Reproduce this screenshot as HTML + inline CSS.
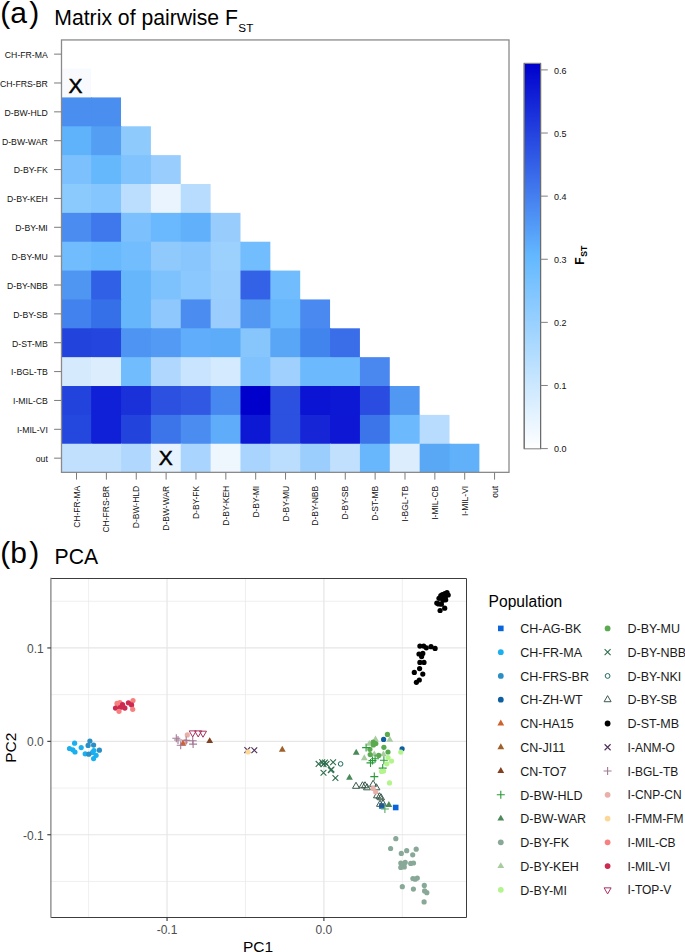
<!DOCTYPE html><html><head><meta charset="utf-8"><style>html,body{margin:0;padding:0;background:#fff;}body{width:685px;height:952px;overflow:hidden;}svg{display:block;}text{font-family:"Liberation Sans", sans-serif;}</style></head><body>
<svg width="685" height="952" viewBox="0 0 685 952">
<rect x="0" y="0" width="685" height="952" fill="#fff"/>
<text x="0.3" y="22.6" font-size="30" fill="#000">(a<tspan dx="2.2">)</tspan></text>
<text x="54.3" y="24.9" font-size="21.2" fill="#000">Matrix of pairwise F<tspan font-size="11.7" dx="0.4" dy="7.0">ST</tspan></text>
<rect x="61.30" y="68.56" width="29.86" height="29.86" fill="#f8fafe"/>
<rect x="61.30" y="97.42" width="30.86" height="29.86" fill="#4a8ef0"/>
<rect x="91.16" y="97.42" width="29.86" height="29.86" fill="#4a8ef0"/>
<rect x="61.30" y="126.28" width="30.86" height="29.86" fill="#5eb3fb"/>
<rect x="91.16" y="126.28" width="30.86" height="29.86" fill="#549ff4"/>
<rect x="121.03" y="126.28" width="29.86" height="29.86" fill="#8fcafd"/>
<rect x="61.30" y="155.14" width="30.86" height="29.86" fill="#7cc1fd"/>
<rect x="91.16" y="155.14" width="30.86" height="29.86" fill="#66b8fd"/>
<rect x="121.03" y="155.14" width="30.86" height="29.86" fill="#80c3fd"/>
<rect x="150.89" y="155.14" width="29.86" height="29.86" fill="#98cdfd"/>
<rect x="61.30" y="184.00" width="30.86" height="29.86" fill="#8acafd"/>
<rect x="91.16" y="184.00" width="30.86" height="29.86" fill="#84c6fd"/>
<rect x="121.03" y="184.00" width="30.86" height="29.86" fill="#bcdefe"/>
<rect x="150.89" y="184.00" width="30.86" height="29.86" fill="#eaf4fe"/>
<rect x="180.75" y="184.00" width="29.86" height="29.86" fill="#b8dcfe"/>
<rect x="61.30" y="212.86" width="30.86" height="29.86" fill="#4a8cf0"/>
<rect x="91.16" y="212.86" width="30.86" height="29.86" fill="#3e78ec"/>
<rect x="121.03" y="212.86" width="30.86" height="29.86" fill="#7cc0fd"/>
<rect x="150.89" y="212.86" width="30.86" height="29.86" fill="#6ab8fd"/>
<rect x="180.75" y="212.86" width="30.86" height="29.86" fill="#60b0fc"/>
<rect x="210.62" y="212.86" width="29.86" height="29.86" fill="#98ccfd"/>
<rect x="61.30" y="241.72" width="30.86" height="29.86" fill="#70bcfd"/>
<rect x="91.16" y="241.72" width="30.86" height="29.86" fill="#68b8fd"/>
<rect x="121.03" y="241.72" width="30.86" height="29.86" fill="#72bdfd"/>
<rect x="150.89" y="241.72" width="30.86" height="29.86" fill="#90cafd"/>
<rect x="180.75" y="241.72" width="30.86" height="29.86" fill="#88c6fd"/>
<rect x="210.62" y="241.72" width="30.86" height="29.86" fill="#9cd0fd"/>
<rect x="240.48" y="241.72" width="29.86" height="29.86" fill="#72bdfd"/>
<rect x="61.30" y="270.58" width="30.86" height="29.86" fill="#4e96f2"/>
<rect x="91.16" y="270.58" width="30.86" height="29.86" fill="#3060e6"/>
<rect x="121.03" y="270.58" width="30.86" height="29.86" fill="#66b6fc"/>
<rect x="150.89" y="270.58" width="30.86" height="29.86" fill="#7ec2fd"/>
<rect x="180.75" y="270.58" width="30.86" height="29.86" fill="#8ac8fd"/>
<rect x="210.62" y="270.58" width="30.86" height="29.86" fill="#9acefd"/>
<rect x="240.48" y="270.58" width="30.86" height="29.86" fill="#3462e6"/>
<rect x="270.34" y="270.58" width="29.86" height="29.86" fill="#70bcfd"/>
<rect x="61.30" y="299.44" width="30.86" height="29.86" fill="#4282ee"/>
<rect x="91.16" y="299.44" width="30.86" height="29.86" fill="#3670e9"/>
<rect x="121.03" y="299.44" width="30.86" height="29.86" fill="#66b6fc"/>
<rect x="150.89" y="299.44" width="30.86" height="29.86" fill="#8ec8fd"/>
<rect x="180.75" y="299.44" width="30.86" height="29.86" fill="#4a8cf0"/>
<rect x="210.62" y="299.44" width="30.86" height="29.86" fill="#9acdfd"/>
<rect x="240.48" y="299.44" width="30.86" height="29.86" fill="#5298f2"/>
<rect x="270.34" y="299.44" width="30.86" height="29.86" fill="#68b6fc"/>
<rect x="300.20" y="299.44" width="29.86" height="29.86" fill="#4a8af0"/>
<rect x="61.30" y="328.30" width="30.86" height="29.86" fill="#2244dd"/>
<rect x="91.16" y="328.30" width="30.86" height="29.86" fill="#2446de"/>
<rect x="121.03" y="328.30" width="30.86" height="29.86" fill="#4e94f2"/>
<rect x="150.89" y="328.30" width="30.86" height="29.86" fill="#529af3"/>
<rect x="180.75" y="328.30" width="30.86" height="29.86" fill="#60aefb"/>
<rect x="210.62" y="328.30" width="30.86" height="29.86" fill="#5cacfa"/>
<rect x="240.48" y="328.30" width="30.86" height="29.86" fill="#86c6fd"/>
<rect x="270.34" y="328.30" width="30.86" height="29.86" fill="#5aa6f6"/>
<rect x="300.20" y="328.30" width="30.86" height="29.86" fill="#4284ee"/>
<rect x="330.07" y="328.30" width="29.86" height="29.86" fill="#3a6ee9"/>
<rect x="61.30" y="357.16" width="30.86" height="29.86" fill="#d6eafe"/>
<rect x="91.16" y="357.16" width="30.86" height="29.86" fill="#dceefe"/>
<rect x="121.03" y="357.16" width="30.86" height="29.86" fill="#70bcfd"/>
<rect x="150.89" y="357.16" width="30.86" height="29.86" fill="#b0d8fe"/>
<rect x="180.75" y="357.16" width="30.86" height="29.86" fill="#c8e4fe"/>
<rect x="210.62" y="357.16" width="30.86" height="29.86" fill="#d4eafe"/>
<rect x="240.48" y="357.16" width="30.86" height="29.86" fill="#80c2fd"/>
<rect x="270.34" y="357.16" width="30.86" height="29.86" fill="#a0d0fd"/>
<rect x="300.20" y="357.16" width="30.86" height="29.86" fill="#6cbafd"/>
<rect x="330.07" y="357.16" width="30.86" height="29.86" fill="#6cbafd"/>
<rect x="359.93" y="357.16" width="29.86" height="29.86" fill="#4a88f0"/>
<rect x="61.30" y="386.02" width="30.86" height="29.86" fill="#2244dc"/>
<rect x="91.16" y="386.02" width="30.86" height="29.86" fill="#1020d6"/>
<rect x="121.03" y="386.02" width="30.86" height="29.86" fill="#1a30d8"/>
<rect x="150.89" y="386.02" width="30.86" height="29.86" fill="#2c50e0"/>
<rect x="180.75" y="386.02" width="30.86" height="29.86" fill="#3058e2"/>
<rect x="210.62" y="386.02" width="30.86" height="29.86" fill="#4688ef"/>
<rect x="240.48" y="386.02" width="30.86" height="29.86" fill="#0000cc"/>
<rect x="270.34" y="386.02" width="30.86" height="29.86" fill="#2c50e0"/>
<rect x="300.20" y="386.02" width="30.86" height="29.86" fill="#0a14d2"/>
<rect x="330.07" y="386.02" width="30.86" height="29.86" fill="#0c18d4"/>
<rect x="359.93" y="386.02" width="30.86" height="29.86" fill="#2a4ce0"/>
<rect x="389.79" y="386.02" width="29.86" height="29.86" fill="#5098f2"/>
<rect x="61.30" y="414.88" width="30.86" height="29.86" fill="#2448de"/>
<rect x="91.16" y="414.88" width="30.86" height="29.86" fill="#1020d6"/>
<rect x="121.03" y="414.88" width="30.86" height="29.86" fill="#2244dc"/>
<rect x="150.89" y="414.88" width="30.86" height="29.86" fill="#3c74ea"/>
<rect x="180.75" y="414.88" width="30.86" height="29.86" fill="#4a8cf0"/>
<rect x="210.62" y="414.88" width="30.86" height="29.86" fill="#5eacfa"/>
<rect x="240.48" y="414.88" width="30.86" height="29.86" fill="#0c18d4"/>
<rect x="270.34" y="414.88" width="30.86" height="29.86" fill="#2c50e0"/>
<rect x="300.20" y="414.88" width="30.86" height="29.86" fill="#1626d6"/>
<rect x="330.07" y="414.88" width="30.86" height="29.86" fill="#0e18d4"/>
<rect x="359.93" y="414.88" width="30.86" height="29.86" fill="#3c74ea"/>
<rect x="389.79" y="414.88" width="30.86" height="29.86" fill="#6cbafd"/>
<rect x="419.66" y="414.88" width="29.86" height="29.86" fill="#b8dcfe"/>
<rect x="61.30" y="443.74" width="30.86" height="28.86" fill="#c0e0fe"/>
<rect x="91.16" y="443.74" width="30.86" height="28.86" fill="#c0e0fe"/>
<rect x="121.03" y="443.74" width="30.86" height="28.86" fill="#b0d8fe"/>
<rect x="150.89" y="443.74" width="30.86" height="28.86" fill="#e6f2fe"/>
<rect x="180.75" y="443.74" width="30.86" height="28.86" fill="#a8d4fe"/>
<rect x="210.62" y="443.74" width="30.86" height="28.86" fill="#eef6fe"/>
<rect x="240.48" y="443.74" width="30.86" height="28.86" fill="#a8d4fe"/>
<rect x="270.34" y="443.74" width="30.86" height="28.86" fill="#bcdefe"/>
<rect x="300.20" y="443.74" width="30.86" height="28.86" fill="#9ccefd"/>
<rect x="330.07" y="443.74" width="30.86" height="28.86" fill="#c0e0fe"/>
<rect x="359.93" y="443.74" width="30.86" height="28.86" fill="#68b6fc"/>
<rect x="389.79" y="443.74" width="30.86" height="28.86" fill="#dceefe"/>
<rect x="419.66" y="443.74" width="30.86" height="28.86" fill="#58a8f6"/>
<rect x="449.52" y="443.74" width="29.86" height="28.86" fill="#60b0fa"/>
<text x="75.40" y="92.60" font-size="21" text-anchor="middle" fill="#000" stroke="#000" stroke-width="0.45">X</text>
<text x="165.70" y="465.40" font-size="21" text-anchor="middle" fill="#000" stroke="#000" stroke-width="0.45">X</text>
<rect x="61.5" y="39.95" width="447.5" height="432.4" fill="none" stroke="#8a8a8a" stroke-width="1.3"/>
<line x1="54.10" y1="54.13" x2="61.30" y2="54.13" stroke="#7a7a7a" stroke-width="1"/>
<text x="47.8" y="58.03" font-size="8.7" text-anchor="end" fill="#111">CH-FR-MA</text>
<line x1="54.10" y1="82.99" x2="61.30" y2="82.99" stroke="#7a7a7a" stroke-width="1"/>
<text x="47.8" y="86.89" font-size="8.7" text-anchor="end" fill="#111">CH-FRS-BR</text>
<line x1="54.10" y1="111.85" x2="61.30" y2="111.85" stroke="#7a7a7a" stroke-width="1"/>
<text x="47.8" y="115.75" font-size="8.7" text-anchor="end" fill="#111">D-BW-HLD</text>
<line x1="54.10" y1="140.71" x2="61.30" y2="140.71" stroke="#7a7a7a" stroke-width="1"/>
<text x="47.8" y="144.61" font-size="8.7" text-anchor="end" fill="#111">D-BW-WAR</text>
<line x1="54.10" y1="169.57" x2="61.30" y2="169.57" stroke="#7a7a7a" stroke-width="1"/>
<text x="47.8" y="173.47" font-size="8.7" text-anchor="end" fill="#111">D-BY-FK</text>
<line x1="54.10" y1="198.43" x2="61.30" y2="198.43" stroke="#7a7a7a" stroke-width="1"/>
<text x="47.8" y="202.33" font-size="8.7" text-anchor="end" fill="#111">D-BY-KEH</text>
<line x1="54.10" y1="227.29" x2="61.30" y2="227.29" stroke="#7a7a7a" stroke-width="1"/>
<text x="47.8" y="231.19" font-size="8.7" text-anchor="end" fill="#111">D-BY-MI</text>
<line x1="54.10" y1="256.15" x2="61.30" y2="256.15" stroke="#7a7a7a" stroke-width="1"/>
<text x="47.8" y="260.05" font-size="8.7" text-anchor="end" fill="#111">D-BY-MU</text>
<line x1="54.10" y1="285.01" x2="61.30" y2="285.01" stroke="#7a7a7a" stroke-width="1"/>
<text x="47.8" y="288.91" font-size="8.7" text-anchor="end" fill="#111">D-BY-NBB</text>
<line x1="54.10" y1="313.87" x2="61.30" y2="313.87" stroke="#7a7a7a" stroke-width="1"/>
<text x="47.8" y="317.77" font-size="8.7" text-anchor="end" fill="#111">D-BY-SB</text>
<line x1="54.10" y1="342.73" x2="61.30" y2="342.73" stroke="#7a7a7a" stroke-width="1"/>
<text x="47.8" y="346.63" font-size="8.7" text-anchor="end" fill="#111">D-ST-MB</text>
<line x1="54.10" y1="371.59" x2="61.30" y2="371.59" stroke="#7a7a7a" stroke-width="1"/>
<text x="47.8" y="375.49" font-size="8.7" text-anchor="end" fill="#111">I-BGL-TB</text>
<line x1="54.10" y1="400.45" x2="61.30" y2="400.45" stroke="#7a7a7a" stroke-width="1"/>
<text x="47.8" y="404.35" font-size="8.7" text-anchor="end" fill="#111">I-MIL-CB</text>
<line x1="54.10" y1="429.31" x2="61.30" y2="429.31" stroke="#7a7a7a" stroke-width="1"/>
<text x="47.8" y="433.21" font-size="8.7" text-anchor="end" fill="#111">I-MIL-VI</text>
<line x1="54.10" y1="458.17" x2="61.30" y2="458.17" stroke="#7a7a7a" stroke-width="1"/>
<text x="47.8" y="462.07" font-size="8.7" text-anchor="end" fill="#111">out</text>
<line x1="76.53" y1="472.60" x2="76.53" y2="479.60" stroke="#7a7a7a" stroke-width="1"/>
<text transform="translate(79.58,485.8) rotate(-90)" font-size="8.5" text-anchor="end" fill="#111">CH-FR-MA</text>
<line x1="106.39" y1="472.60" x2="106.39" y2="479.60" stroke="#7a7a7a" stroke-width="1"/>
<text transform="translate(109.44,485.8) rotate(-90)" font-size="8.5" text-anchor="end" fill="#111">CH-FRS-BR</text>
<line x1="136.25" y1="472.60" x2="136.25" y2="479.60" stroke="#7a7a7a" stroke-width="1"/>
<text transform="translate(139.30,485.8) rotate(-90)" font-size="8.5" text-anchor="end" fill="#111">D-BW-HLD</text>
<line x1="166.11" y1="472.60" x2="166.11" y2="479.60" stroke="#7a7a7a" stroke-width="1"/>
<text transform="translate(169.16,485.8) rotate(-90)" font-size="8.5" text-anchor="end" fill="#111">D-BW-WAR</text>
<line x1="195.97" y1="472.60" x2="195.97" y2="479.60" stroke="#7a7a7a" stroke-width="1"/>
<text transform="translate(199.02,485.8) rotate(-90)" font-size="8.5" text-anchor="end" fill="#111">D-BY-FK</text>
<line x1="225.83" y1="472.60" x2="225.83" y2="479.60" stroke="#7a7a7a" stroke-width="1"/>
<text transform="translate(228.88,485.8) rotate(-90)" font-size="8.5" text-anchor="end" fill="#111">D-BY-KEH</text>
<line x1="255.69" y1="472.60" x2="255.69" y2="479.60" stroke="#7a7a7a" stroke-width="1"/>
<text transform="translate(258.74,485.8) rotate(-90)" font-size="8.5" text-anchor="end" fill="#111">D-BY-MI</text>
<line x1="285.55" y1="472.60" x2="285.55" y2="479.60" stroke="#7a7a7a" stroke-width="1"/>
<text transform="translate(288.60,485.8) rotate(-90)" font-size="8.5" text-anchor="end" fill="#111">D-BY-MU</text>
<line x1="315.41" y1="472.60" x2="315.41" y2="479.60" stroke="#7a7a7a" stroke-width="1"/>
<text transform="translate(318.46,485.8) rotate(-90)" font-size="8.5" text-anchor="end" fill="#111">D-BY-NBB</text>
<line x1="345.27" y1="472.60" x2="345.27" y2="479.60" stroke="#7a7a7a" stroke-width="1"/>
<text transform="translate(348.32,485.8) rotate(-90)" font-size="8.5" text-anchor="end" fill="#111">D-BY-SB</text>
<line x1="375.13" y1="472.60" x2="375.13" y2="479.60" stroke="#7a7a7a" stroke-width="1"/>
<text transform="translate(378.18,485.8) rotate(-90)" font-size="8.5" text-anchor="end" fill="#111">D-ST-MB</text>
<line x1="404.99" y1="472.60" x2="404.99" y2="479.60" stroke="#7a7a7a" stroke-width="1"/>
<text transform="translate(408.04,485.8) rotate(-90)" font-size="8.5" text-anchor="end" fill="#111">I-BGL-TB</text>
<line x1="434.85" y1="472.60" x2="434.85" y2="479.60" stroke="#7a7a7a" stroke-width="1"/>
<text transform="translate(437.90,485.8) rotate(-90)" font-size="8.5" text-anchor="end" fill="#111">I-MIL-CB</text>
<line x1="464.71" y1="472.60" x2="464.71" y2="479.60" stroke="#7a7a7a" stroke-width="1"/>
<text transform="translate(467.76,485.8) rotate(-90)" font-size="8.5" text-anchor="end" fill="#111">I-MIL-VI</text>
<line x1="494.57" y1="472.60" x2="494.57" y2="479.60" stroke="#7a7a7a" stroke-width="1"/>
<text transform="translate(497.62,485.8) rotate(-90)" font-size="8.5" text-anchor="end" fill="#111">out</text>
<defs><linearGradient id="cb" x1="0" y1="1" x2="0" y2="0"><stop offset="0" stop-color="#ffffff"/><stop offset="0.4994" stop-color="#63b8ff"/><stop offset="1" stop-color="#0000cd"/></linearGradient></defs>
<rect x="524.20" y="63.30" width="16.40" height="385.50" fill="url(#cb)" stroke="#8a8a8a" stroke-width="1.1"/>
<path d="M524.20 63.30V448.80M540.60 63.30V448.80" stroke="#6a6a6a" stroke-width="1.1" fill="none"/>
<line x1="540.60" y1="448.60" x2="547.80" y2="448.60" stroke="#808080" stroke-width="1"/>
<text x="554" y="452.40" font-size="9" fill="#111">0.0</text>
<line x1="540.60" y1="385.48" x2="547.80" y2="385.48" stroke="#808080" stroke-width="1"/>
<text x="554" y="389.28" font-size="9" fill="#111">0.1</text>
<line x1="540.60" y1="322.37" x2="547.80" y2="322.37" stroke="#808080" stroke-width="1"/>
<text x="554" y="326.17" font-size="9" fill="#111">0.2</text>
<line x1="540.60" y1="259.25" x2="547.80" y2="259.25" stroke="#808080" stroke-width="1"/>
<text x="554" y="263.05" font-size="9" fill="#111">0.3</text>
<line x1="540.60" y1="196.13" x2="547.80" y2="196.13" stroke="#808080" stroke-width="1"/>
<text x="554" y="199.93" font-size="9" fill="#111">0.4</text>
<line x1="540.60" y1="133.02" x2="547.80" y2="133.02" stroke="#808080" stroke-width="1"/>
<text x="554" y="136.82" font-size="9" fill="#111">0.5</text>
<line x1="540.60" y1="69.90" x2="547.80" y2="69.90" stroke="#808080" stroke-width="1"/>
<text x="554" y="73.70" font-size="9" fill="#111">0.6</text>
<text transform="translate(583.6,264.8) rotate(-90)" font-size="12" font-weight="bold" fill="#000">F<tspan font-size="8.6" font-weight="bold" dx="0.8" dy="3.2">ST</tspan></text>
<text x="0.3" y="562.6" font-size="30" fill="#000">(b<tspan dx="2.2">)</tspan></text>
<text x="54.5" y="563.6" font-size="21.2" fill="#000">PCA</text>
<line x1="88.62" y1="578.30" x2="88.62" y2="917.30" stroke="#ebebeb" stroke-width="0.8"/>
<line x1="245.47" y1="578.30" x2="245.47" y2="917.30" stroke="#ebebeb" stroke-width="0.8"/>
<line x1="402.32" y1="578.30" x2="402.32" y2="917.30" stroke="#ebebeb" stroke-width="0.8"/>
<line x1="50.90" y1="601.25" x2="466.10" y2="601.25" stroke="#ebebeb" stroke-width="0.8"/>
<line x1="50.90" y1="694.65" x2="466.10" y2="694.65" stroke="#ebebeb" stroke-width="0.8"/>
<line x1="50.90" y1="788.05" x2="466.10" y2="788.05" stroke="#ebebeb" stroke-width="0.8"/>
<line x1="50.90" y1="881.45" x2="466.10" y2="881.45" stroke="#ebebeb" stroke-width="0.8"/>
<line x1="167.05" y1="578.30" x2="167.05" y2="917.30" stroke="#e6e6e6" stroke-width="1.2"/>
<line x1="323.90" y1="578.30" x2="323.90" y2="917.30" stroke="#e6e6e6" stroke-width="1.2"/>
<line x1="50.90" y1="647.95" x2="466.10" y2="647.95" stroke="#e6e6e6" stroke-width="1.2"/>
<line x1="50.90" y1="741.35" x2="466.10" y2="741.35" stroke="#e6e6e6" stroke-width="1.2"/>
<line x1="50.90" y1="834.75" x2="466.10" y2="834.75" stroke="#e6e6e6" stroke-width="1.2"/>
<circle cx="89.90" cy="741.10" r="2.60" fill="#2a8fc4"/>
<circle cx="88.10" cy="745.40" r="2.60" fill="#2a8fc4"/>
<circle cx="93.60" cy="745.10" r="2.60" fill="#2a8fc4"/>
<circle cx="74.60" cy="743.20" r="2.60" fill="#1ab0f0"/>
<circle cx="69.50" cy="748.50" r="2.60" fill="#1ab0f0"/>
<circle cx="72.80" cy="749.80" r="2.60" fill="#1ab0f0"/>
<circle cx="75.00" cy="752.00" r="2.60" fill="#1ab0f0"/>
<circle cx="81.20" cy="747.60" r="2.60" fill="#1ab0f0"/>
<circle cx="85.20" cy="753.80" r="2.60" fill="#1ab0f0"/>
<circle cx="93.90" cy="750.50" r="2.60" fill="#1ab0f0"/>
<circle cx="96.10" cy="755.30" r="2.60" fill="#1ab0f0"/>
<circle cx="93.60" cy="758.60" r="2.60" fill="#1ab0f0"/>
<circle cx="92.50" cy="752.40" r="2.60" fill="#1ab0f0"/>
<circle cx="99.40" cy="750.20" r="2.60" fill="#2a8fc4"/>
<circle cx="88.80" cy="754.20" r="2.60" fill="#2a8fc4"/>
<circle cx="117.00" cy="703.40" r="2.60" fill="#f88080"/>
<circle cx="119.90" cy="702.60" r="2.60" fill="#f88080"/>
<circle cx="133.00" cy="700.50" r="2.60" fill="#f88080"/>
<circle cx="115.50" cy="708.10" r="2.60" fill="#cc2a50"/>
<circle cx="119.90" cy="707.50" r="2.60" fill="#cc2a50"/>
<circle cx="122.50" cy="704.60" r="2.60" fill="#cc2a50"/>
<circle cx="124.90" cy="708.10" r="2.60" fill="#cc2a50"/>
<circle cx="123.10" cy="706.90" r="2.60" fill="#cc2a50"/>
<circle cx="128.40" cy="702.80" r="2.60" fill="#cc2a50"/>
<circle cx="131.60" cy="704.90" r="2.60" fill="#cc2a50"/>
<circle cx="119.00" cy="711.30" r="2.60" fill="#f88080"/>
<circle cx="132.70" cy="709.30" r="2.60" fill="#f88080"/>
<circle cx="187.30" cy="734.90" r="2.60" fill="#e8b0a8"/>
<circle cx="185.50" cy="741.50" r="2.60" fill="#e8b0a8"/>
<path d="M182.90 739.77L186.30 745.66L179.50 745.66Z" fill="#d0602c"/>
<path d="M172.30 738.20H180.30M176.30 734.20V742.20" stroke="#a57a95" stroke-width="1.1" fill="none"/>
<path d="M174.00 740.00H182.00M178.00 736.00V744.00" stroke="#a57a95" stroke-width="1.1" fill="none"/>
<path d="M176.70 745.20H184.70M180.70 741.20V749.20" stroke="#a57a95" stroke-width="1.1" fill="none"/>
<path d="M182.20 740.40H190.20M186.20 736.40V744.40" stroke="#a57a95" stroke-width="1.1" fill="none"/>
<path d="M188.70 740.80H196.70M192.70 736.80V744.80" stroke="#a57a95" stroke-width="1.1" fill="none"/>
<path d="M189.10 744.10H197.10M193.10 740.10V748.10" stroke="#a57a95" stroke-width="1.1" fill="none"/>
<path d="M192.70 736.94L196.20 730.88L189.20 730.88Z" fill="none" stroke="#a83060" stroke-width="1" stroke-linejoin="round"/>
<path d="M198.20 736.94L201.70 730.88L194.70 730.88Z" fill="none" stroke="#a83060" stroke-width="1" stroke-linejoin="round"/>
<path d="M203.00 737.24L206.50 731.18L199.50 731.18Z" fill="none" stroke="#a83060" stroke-width="1" stroke-linejoin="round"/>
<path d="M209.70 737.17L213.10 743.06L206.30 743.06Z" fill="#82401e"/>
<path d="M244.40 747.20L250.20 753.00M244.40 753.00L250.20 747.20" stroke="#50305a" stroke-width="1.1" fill="none"/>
<path d="M251.40 747.40L257.20 753.20M251.40 753.20L257.20 747.40" stroke="#50305a" stroke-width="1.1" fill="none"/>
<circle cx="248.00" cy="751.90" r="2.60" fill="#fcd898"/>
<path d="M282.30 745.87L285.70 751.76L278.90 751.76Z" fill="#a0602a"/>
<path d="M315.70 761.00L321.50 766.80M315.70 766.80L321.50 761.00" stroke="#2e6e4e" stroke-width="1.1" fill="none"/>
<path d="M319.30 759.30L325.10 765.10M319.30 765.10L325.10 759.30" stroke="#2e6e4e" stroke-width="1.1" fill="none"/>
<path d="M322.00 759.70L327.80 765.50M322.00 765.50L327.80 759.70" stroke="#2e6e4e" stroke-width="1.1" fill="none"/>
<path d="M323.60 761.00L329.40 766.80M323.60 766.80L329.40 761.00" stroke="#2e6e4e" stroke-width="1.1" fill="none"/>
<path d="M320.60 761.30L326.40 767.10M320.60 767.10L326.40 761.30" stroke="#2e6e4e" stroke-width="1.1" fill="none"/>
<path d="M330.20 759.30L336.00 765.10M330.20 765.10L336.00 759.30" stroke="#2e6e4e" stroke-width="1.1" fill="none"/>
<path d="M327.90 767.20L333.70 773.00M327.90 773.00L333.70 767.20" stroke="#2e6e4e" stroke-width="1.1" fill="none"/>
<path d="M328.60 766.60L334.40 772.40M328.60 772.40L334.40 766.60" stroke="#2e6e4e" stroke-width="1.1" fill="none"/>
<path d="M320.60 769.80L326.40 775.60M320.60 775.60L326.40 769.80" stroke="#2e6e4e" stroke-width="1.1" fill="none"/>
<path d="M332.50 775.10L338.30 780.90M332.50 780.90L338.30 775.10" stroke="#2e6e4e" stroke-width="1.1" fill="none"/>
<circle cx="340.60" cy="763.90" r="2.30" fill="none" stroke="#1e6a60" stroke-width="1"/>
<path d="M356.20 748.87L359.60 754.76L352.80 754.76Z" fill="#4a8a58"/>
<path d="M349.50 773.77L352.90 779.66L346.10 779.66Z" fill="#4a8a58"/>
<path d="M375.50 735.57L378.90 741.46L372.10 741.46Z" fill="#a8cca0"/>
<path d="M389.80 735.87L393.20 741.76L386.40 741.76Z" fill="#a8cca0"/>
<path d="M369.30 739.97L372.70 745.86L365.90 745.86Z" fill="#a8cca0"/>
<path d="M374.30 750.47L377.70 756.36L370.90 756.36Z" fill="#a8cca0"/>
<path d="M383.40 750.47L386.80 756.36L380.00 756.36Z" fill="#a8cca0"/>
<path d="M364.30 754.37L367.70 760.26L360.90 760.26Z" fill="#a8cca0"/>
<circle cx="387.40" cy="734.40" r="2.60" fill="#5aaa50"/>
<circle cx="373.10" cy="742.00" r="2.60" fill="#5aaa50"/>
<circle cx="374.30" cy="743.80" r="2.60" fill="#5aaa50"/>
<circle cx="375.80" cy="743.50" r="2.60" fill="#5aaa50"/>
<circle cx="373.40" cy="744.90" r="2.60" fill="#5aaa50"/>
<circle cx="369.90" cy="749.30" r="2.60" fill="#5aaa50"/>
<circle cx="383.90" cy="747.30" r="2.60" fill="#5aaa50"/>
<circle cx="388.00" cy="752.00" r="2.60" fill="#5aaa50"/>
<circle cx="370.20" cy="754.60" r="2.60" fill="#5aaa50"/>
<circle cx="378.70" cy="755.40" r="2.60" fill="#5aaa50"/>
<circle cx="383.60" cy="739.40" r="2.60" fill="#0e5fa0"/>
<circle cx="402.10" cy="748.80" r="2.60" fill="#0e5fa0"/>
<path d="M362.10 747.60H370.10M366.10 743.60V751.60" stroke="#2a9a3a" stroke-width="1.1" fill="none"/>
<path d="M366.50 762.90H374.50M370.50 758.90V766.90" stroke="#2a9a3a" stroke-width="1.1" fill="none"/>
<path d="M368.50 760.60H376.50M372.50 756.60V764.60" stroke="#2a9a3a" stroke-width="1.1" fill="none"/>
<path d="M371.10 758.80H379.10M375.10 754.80V762.80" stroke="#2a9a3a" stroke-width="1.1" fill="none"/>
<path d="M379.90 760.30H387.90M383.90 756.30V764.30" stroke="#2a9a3a" stroke-width="1.1" fill="none"/>
<path d="M378.70 768.10H386.70M382.70 764.10V772.10" stroke="#2a9a3a" stroke-width="1.1" fill="none"/>
<path d="M370.30 776.60H378.30M374.30 772.60V780.60" stroke="#2a9a3a" stroke-width="1.1" fill="none"/>
<circle cx="388.00" cy="757.60" r="2.60" fill="#b4f48c"/>
<circle cx="391.50" cy="761.10" r="2.60" fill="#b4f48c"/>
<circle cx="386.80" cy="763.80" r="2.60" fill="#b4f48c"/>
<circle cx="381.60" cy="771.40" r="2.60" fill="#b4f48c"/>
<circle cx="383.60" cy="771.10" r="2.60" fill="#b4f48c"/>
<circle cx="400.80" cy="752.10" r="2.60" fill="#b4f48c"/>
<circle cx="389.50" cy="782.90" r="2.60" fill="#b4f48c"/>
<rect x="379.10" y="803.20" width="5.60" height="5.60" fill="#0a64dc"/>
<rect x="392.90" y="804.70" width="5.60" height="5.60" fill="#0a64dc"/>
<path d="M356.00 782.26L359.50 788.32L352.50 788.32Z" fill="none" stroke="#3a5a4a" stroke-width="1" stroke-linejoin="round"/>
<path d="M362.50 781.76L366.00 787.82L359.00 787.82Z" fill="none" stroke="#3a5a4a" stroke-width="1" stroke-linejoin="round"/>
<path d="M365.00 781.76L368.50 787.82L361.50 787.82Z" fill="none" stroke="#3a5a4a" stroke-width="1" stroke-linejoin="round"/>
<path d="M367.00 783.76L370.50 789.82L363.50 789.82Z" fill="none" stroke="#3a5a4a" stroke-width="1" stroke-linejoin="round"/>
<path d="M373.10 780.26L376.60 786.32L369.60 786.32Z" fill="none" stroke="#3a5a4a" stroke-width="1" stroke-linejoin="round"/>
<path d="M376.40 783.76L379.90 789.82L372.90 789.82Z" fill="none" stroke="#3a5a4a" stroke-width="1" stroke-linejoin="round"/>
<path d="M377.00 791.76L380.50 797.82L373.50 797.82Z" fill="none" stroke="#3a5a4a" stroke-width="1" stroke-linejoin="round"/>
<path d="M379.50 792.76L383.00 798.82L376.00 798.82Z" fill="none" stroke="#3a5a4a" stroke-width="1" stroke-linejoin="round"/>
<path d="M381.00 793.76L384.50 799.82L377.50 799.82Z" fill="none" stroke="#3a5a4a" stroke-width="1" stroke-linejoin="round"/>
<path d="M380.00 800.26L383.50 806.32L376.50 806.32Z" fill="none" stroke="#3a5a4a" stroke-width="1" stroke-linejoin="round"/>
<path d="M383.00 799.76L386.50 805.82L379.50 805.82Z" fill="none" stroke="#3a5a4a" stroke-width="1" stroke-linejoin="round"/>
<circle cx="373.10" cy="788.40" r="2.60" fill="#e8b0a8"/>
<circle cx="375.70" cy="792.00" r="2.60" fill="#e8b0a8"/>
<path d="M388.90 801.07L392.30 806.96L385.50 806.96Z" fill="#4a8a58"/>
<path d="M380.90 809.00H388.90M384.90 805.00V813.00" stroke="#5aaa66" stroke-width="1.1" fill="none"/>
<circle cx="395.80" cy="838.70" r="2.60" fill="#88a898"/>
<circle cx="390.60" cy="848.50" r="2.60" fill="#88a898"/>
<circle cx="401.30" cy="853.40" r="2.60" fill="#88a898"/>
<circle cx="406.70" cy="850.70" r="2.60" fill="#88a898"/>
<circle cx="416.20" cy="849.20" r="2.60" fill="#88a898"/>
<circle cx="412.70" cy="854.80" r="2.60" fill="#88a898"/>
<circle cx="400.80" cy="863.00" r="2.60" fill="#88a898"/>
<circle cx="405.20" cy="862.40" r="2.60" fill="#88a898"/>
<circle cx="400.80" cy="867.40" r="2.60" fill="#88a898"/>
<circle cx="404.30" cy="866.90" r="2.60" fill="#88a898"/>
<circle cx="402.60" cy="864.70" r="2.60" fill="#88a898"/>
<circle cx="410.70" cy="863.40" r="2.60" fill="#88a898"/>
<circle cx="413.50" cy="863.00" r="2.60" fill="#88a898"/>
<circle cx="412.90" cy="878.50" r="2.60" fill="#88a898"/>
<circle cx="417.30" cy="878.10" r="2.60" fill="#88a898"/>
<circle cx="415.10" cy="879.20" r="2.60" fill="#88a898"/>
<circle cx="402.30" cy="886.70" r="2.60" fill="#88a898"/>
<circle cx="413.40" cy="889.10" r="2.60" fill="#88a898"/>
<circle cx="424.30" cy="885.40" r="2.60" fill="#88a898"/>
<circle cx="424.60" cy="890.90" r="2.60" fill="#88a898"/>
<circle cx="426.80" cy="892.70" r="2.60" fill="#88a898"/>
<circle cx="424.10" cy="901.90" r="2.60" fill="#88a898"/>
<circle cx="447.00" cy="592.70" r="2.60" fill="#000"/>
<circle cx="448.20" cy="595.00" r="2.60" fill="#000"/>
<circle cx="444.90" cy="593.70" r="2.60" fill="#000"/>
<circle cx="442.40" cy="594.50" r="2.60" fill="#000"/>
<circle cx="440.80" cy="595.70" r="2.60" fill="#000"/>
<circle cx="439.00" cy="598.30" r="2.60" fill="#000"/>
<circle cx="441.90" cy="597.80" r="2.60" fill="#000"/>
<circle cx="445.40" cy="596.80" r="2.60" fill="#000"/>
<circle cx="445.70" cy="599.80" r="2.60" fill="#000"/>
<circle cx="442.90" cy="600.30" r="2.60" fill="#000"/>
<circle cx="436.80" cy="603.10" r="2.60" fill="#000"/>
<circle cx="438.50" cy="603.90" r="2.60" fill="#000"/>
<circle cx="441.40" cy="604.20" r="2.60" fill="#000"/>
<circle cx="444.70" cy="608.20" r="2.60" fill="#000"/>
<circle cx="440.10" cy="610.50" r="2.60" fill="#000"/>
<circle cx="419.90" cy="646.10" r="2.60" fill="#000"/>
<circle cx="423.70" cy="646.10" r="2.60" fill="#000"/>
<circle cx="426.30" cy="647.80" r="2.60" fill="#000"/>
<circle cx="431.00" cy="646.70" r="2.60" fill="#000"/>
<circle cx="435.10" cy="648.40" r="2.60" fill="#000"/>
<circle cx="419.00" cy="654.00" r="2.60" fill="#000"/>
<circle cx="422.80" cy="653.40" r="2.60" fill="#000"/>
<circle cx="421.60" cy="656.60" r="2.60" fill="#000"/>
<circle cx="419.90" cy="662.40" r="2.60" fill="#000"/>
<circle cx="424.00" cy="662.40" r="2.60" fill="#000"/>
<circle cx="419.60" cy="668.60" r="2.60" fill="#000"/>
<circle cx="414.30" cy="672.40" r="2.60" fill="#000"/>
<circle cx="422.80" cy="674.10" r="2.60" fill="#000"/>
<circle cx="419.30" cy="680.00" r="2.60" fill="#000"/>
<circle cx="416.40" cy="682.30" r="2.60" fill="#000"/>
<path d="M51 578.5H466.5V917.5H51" fill="none" stroke="#3c3c3c" stroke-width="1"/>
<line x1="50.90" y1="577.75" x2="50.90" y2="917.85" stroke="#7a7a7a" stroke-width="1.2"/>
<line x1="167.05" y1="917.30" x2="167.05" y2="920.90" stroke="#333" stroke-width="1.1"/>
<text x="167.05" y="934" font-size="12" text-anchor="middle" fill="#4d4d4d">-0.1</text>
<line x1="323.90" y1="917.30" x2="323.90" y2="920.90" stroke="#333" stroke-width="1.1"/>
<text x="323.90" y="934" font-size="12" text-anchor="middle" fill="#4d4d4d">0.0</text>
<line x1="47.30" y1="647.95" x2="50.90" y2="647.95" stroke="#333" stroke-width="1.1"/>
<text x="43.8" y="652.75" font-size="12" text-anchor="end" fill="#4d4d4d">0.1</text>
<line x1="47.30" y1="741.35" x2="50.90" y2="741.35" stroke="#333" stroke-width="1.1"/>
<text x="43.8" y="746.15" font-size="12" text-anchor="end" fill="#4d4d4d">0.0</text>
<line x1="47.30" y1="834.75" x2="50.90" y2="834.75" stroke="#333" stroke-width="1.1"/>
<text x="43.8" y="839.55" font-size="12" text-anchor="end" fill="#4d4d4d">-0.1</text>
<text x="258" y="951.7" font-size="15.5" text-anchor="middle" fill="#000">PC1</text>
<text transform="translate(16.4,747.7) rotate(-90)" font-size="15.5" text-anchor="middle" fill="#000">PC2</text>
<text x="488.6" y="607" font-size="15.6" fill="#000">Population</text>
<rect x="498.00" y="625.60" width="5.60" height="5.60" fill="#0a64dc"/>
<text x="520.2" y="633.15" font-size="12.5" fill="#1a1a1a">CH-AG-BK</text>
<circle cx="500.80" cy="652.17" r="2.90" fill="#1ab0f0"/>
<text x="520.2" y="656.92" font-size="12.5" fill="#1a1a1a">CH-FR-MA</text>
<circle cx="500.80" cy="675.94" r="2.90" fill="#2a8fc4"/>
<text x="520.2" y="680.69" font-size="12.5" fill="#1a1a1a">CH-FRS-BR</text>
<circle cx="500.80" cy="699.71" r="2.90" fill="#0e5fa0"/>
<text x="520.2" y="704.46" font-size="12.5" fill="#1a1a1a">CH-ZH-WT</text>
<path d="M500.80 719.55L504.20 725.44L497.40 725.44Z" fill="#d0602c"/>
<text x="520.2" y="728.23" font-size="12.5" fill="#1a1a1a">CN-HA15</text>
<path d="M500.80 743.32L504.20 749.21L497.40 749.21Z" fill="#a0602a"/>
<text x="520.2" y="752.00" font-size="12.5" fill="#1a1a1a">CN-JI11</text>
<path d="M500.80 767.09L504.20 772.98L497.40 772.98Z" fill="#82401e"/>
<text x="520.2" y="775.77" font-size="12.5" fill="#1a1a1a">CN-TO7</text>
<path d="M496.80 794.79H504.80M500.80 790.79V798.79" stroke="#2a9a3a" stroke-width="1.1" fill="none"/>
<text x="520.2" y="799.54" font-size="12.5" fill="#1a1a1a">D-BW-HLD</text>
<path d="M500.80 814.63L504.20 820.52L497.40 820.52Z" fill="#4a8a58"/>
<text x="520.2" y="823.31" font-size="12.5" fill="#1a1a1a">D-BW-WAR</text>
<circle cx="500.80" cy="842.33" r="2.90" fill="#88a898"/>
<text x="520.2" y="847.08" font-size="12.5" fill="#1a1a1a">D-BY-FK</text>
<path d="M500.80 862.17L504.20 868.06L497.40 868.06Z" fill="#a8cca0"/>
<text x="520.2" y="870.85" font-size="12.5" fill="#1a1a1a">D-BY-KEH</text>
<circle cx="500.80" cy="889.87" r="2.90" fill="#b4f48c"/>
<text x="520.2" y="894.62" font-size="12.5" fill="#1a1a1a">D-BY-MI</text>
<circle cx="607.60" cy="628.40" r="2.90" fill="#5aaa50"/>
<text x="627.6" y="633.00" font-size="12.5" fill="#1a1a1a">D-BY-MU</text>
<path d="M604.60 649.17L610.60 655.17M604.60 655.17L610.60 649.17" stroke="#2e6e4e" stroke-width="1.1" fill="none"/>
<text x="627.6" y="656.77" font-size="12.5" fill="#1a1a1a">D-BY-NBB</text>
<circle cx="607.60" cy="675.94" r="2.40" fill="none" stroke="#1e6a60" stroke-width="1"/>
<text x="627.6" y="680.54" font-size="12.5" fill="#1a1a1a">D-BY-NKI</text>
<path d="M607.60 695.67L611.10 701.73L604.10 701.73Z" fill="none" stroke="#3a5a4a" stroke-width="1" stroke-linejoin="round"/>
<text x="627.6" y="704.31" font-size="12.5" fill="#1a1a1a">D-BY-SB</text>
<circle cx="607.60" cy="723.48" r="2.90" fill="#000000"/>
<text x="627.6" y="728.08" font-size="12.5" fill="#1a1a1a">D-ST-MB</text>
<path d="M604.60 744.25L610.60 750.25M604.60 750.25L610.60 744.25" stroke="#50305a" stroke-width="1.1" fill="none"/>
<text x="627.6" y="751.85" font-size="12.0" fill="#1a1a1a">I-ANM-O</text>
<path d="M603.60 771.02H611.60M607.60 767.02V775.02" stroke="#a57a95" stroke-width="1.1" fill="none"/>
<text x="627.6" y="775.62" font-size="12.0" fill="#1a1a1a">I-BGL-TB</text>
<circle cx="607.60" cy="794.79" r="2.90" fill="#e8b0a8"/>
<text x="627.6" y="799.39" font-size="12.0" fill="#1a1a1a">I-CNP-CN</text>
<circle cx="607.60" cy="818.56" r="2.90" fill="#fcd898"/>
<text x="627.6" y="823.16" font-size="12.0" fill="#1a1a1a">I-FMM-FM</text>
<circle cx="607.60" cy="842.33" r="2.90" fill="#f88080"/>
<text x="627.6" y="846.93" font-size="12.0" fill="#1a1a1a">I-MIL-CB</text>
<circle cx="607.60" cy="866.10" r="2.90" fill="#cc2a50"/>
<text x="627.6" y="870.70" font-size="12.0" fill="#1a1a1a">I-MIL-VI</text>
<path d="M607.60 893.91L611.10 887.85L604.10 887.85Z" fill="none" stroke="#a83060" stroke-width="1" stroke-linejoin="round"/>
<text x="627.6" y="894.47" font-size="12.0" fill="#1a1a1a">I-TOP-V</text>
</svg></body></html>
